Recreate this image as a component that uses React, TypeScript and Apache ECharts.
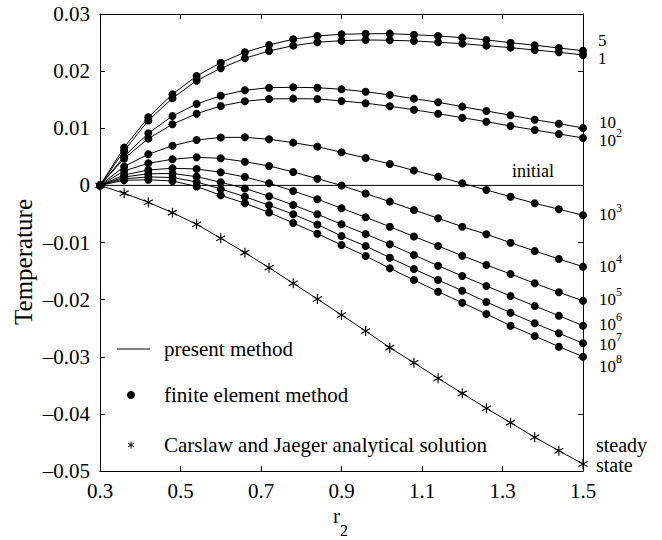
import React, { useEffect, useRef } from 'react';
import * as echarts from 'echarts';

// radial coordinate r2 (x axis)
const r2 = [0.3, 0.36, 0.42, 0.48, 0.54, 0.6, 0.66, 0.72, 0.78, 0.84, 0.9, 0.96, 1.02, 1.08, 1.14, 1.2, 1.26, 1.32, 1.38, 1.44, 1.5];

// temperature profiles for each time
const time1 = [0, 0.00606, 0.01136, 0.01525, 0.01833, 0.0205, 0.02225, 0.02353, 0.02446, 0.02505, 0.02533, 0.02546, 0.0254, 0.02528, 0.02505, 0.02481, 0.02446, 0.02411, 0.0237, 0.0233, 0.02283];
const time5 = [0, 0.00664, 0.01192, 0.01595, 0.01915, 0.02148, 0.0233, 0.02458, 0.02558, 0.02616, 0.02645, 0.02654, 0.02656, 0.02638, 0.02616, 0.02586, 0.02546, 0.02498, 0.02453, 0.02405, 0.02358];
const time10 = [0, 0.00506, 0.00912, 0.01215, 0.01425, 0.0157, 0.01665, 0.0171, 0.01717, 0.0171, 0.01682, 0.0164, 0.01583, 0.01518, 0.01455, 0.01378, 0.01303, 0.01227, 0.0115, 0.0108, 0.01005];
const time1e2 = [0, 0.00471, 0.00818, 0.0107, 0.01255, 0.0139, 0.01472, 0.01513, 0.01518, 0.01513, 0.01478, 0.01439, 0.01385, 0.01325, 0.01255, 0.01185, 0.01115, 0.0104, 0.0097, 0.009, 0.0083];
const time1e3 = [0, 0.00331, 0.00544, 0.00695, 0.00795, 0.00839, 0.00842, 0.00807, 0.00748, 0.00678, 0.00579, 0.0048, 0.00375, 0.00261, 0.00152, 0.00037, -0.00081, -0.00198, -0.00313, -0.00418, -0.00523];
const time1e4 = [0, 0.00252, 0.00387, 0.00457, 0.00492, 0.00474, 0.00415, 0.0034, 0.00235, 0.00117, -0.00002, -0.00142, -0.00285, -0.00431, -0.00576, -0.00723, -0.00856, -0.01003, -0.01148, -0.01289, -0.01423];
const time1e5 = [0, 0.00182, 0.0027, 0.00299, 0.00287, 0.00229, 0.00147, 0.00037, -0.00098, -0.00242, -0.00401, -0.00558, -0.00723, -0.00895, -0.01061, -0.01231, -0.01394, -0.01551, -0.01714, -0.01872, -0.02019];
const time1e6 = [0, 0.00147, 0.00203, 0.00208, 0.00152, 0.00056, -0.00054, -0.00191, -0.00343, -0.00506, -0.00681, -0.00851, -0.01031, -0.01219, -0.01406, -0.01586, -0.01761, -0.01936, -0.02111, -0.02281, -0.02456];
const time1e7 = [0, 0.00116, 0.00147, 0.00138, 0.0006, -0.00063, -0.00198, -0.00348, -0.00506, -0.00685, -0.00886, -0.01061, -0.01266, -0.01464, -0.01656, -0.01844, -0.02041, -0.02229, -0.02414, -0.02589, -0.02764];
const time1e8 = [0, 0.00089, 0.00098, 0.00077, -0.00019, -0.00173, -0.00313, -0.00474, -0.00658, -0.00846, -0.01043, -0.01236, -0.01451, -0.01656, -0.01861, -0.02054, -0.02251, -0.02456, -0.02637, -0.02824, -0.02999];
const steadyState = [0, -0.00138, -0.00296, -0.00478, -0.00681, -0.00926, -0.01178, -0.01441, -0.01714, -0.01989, -0.02269, -0.02549, -0.02841, -0.03104, -0.03377, -0.0364, -0.03902, -0.04154, -0.0441, -0.04645, -0.04877];

// initial condition line
const initialR = [0.3, 1.5];
const initialT = [0, 0];

const fdSeries = [time1, time5, time10, time1e2, time1e3, time1e4, time1e5, time1e6, time1e7, time1e8];
const fdNames = ['1', '5', '10', '10^2', '10^3', '10^4', '10^5', '10^6', '10^7', '10^8'];

// axis ticks
const xTicks = [0.3, 0.5, 0.7, 0.9, 1.1, 1.3, 1.5];
const yMin = -0.05;
const yMax = 0.03;
const yStep = 0.01;

// texts
const legendTexts = ['present method', 'finite element method', 'Carslaw and Jaeger analytical solution'];
const yTitle = 'Temperature';
const initialLabel = 'initial';
const steadyLabel = ['steady', 'state'];

const FONT = '"Liberation Serif", "Times New Roman", serif';

const asteriskPath = 'path://M0 -10 L0 10 M-8.66 -5 L8.66 5 M-8.66 5 L8.66 -5';

export default function App() {
  const ref = useRef<HTMLDivElement>(null);

  useEffect(() => {
    if (!ref.current) return;
    const chart = echarts.init(ref.current, null, { renderer: 'svg' });

    const fmtY = (v: number) => {
      const r = Math.round(v * 100) / 100;
      if (r === 0) return '0';
      if (r < 0) return '\u2013' + Math.abs(r).toFixed(2);
      return r.toFixed(2);
    };

    const series: any[] = [];
    series.push({
      type: 'line',
      name: 'initial',
      data: initialR.map((x, i) => [x, initialT[i]]),
      symbol: 'none',
      lineStyle: { color: '#000', width: 1 },
      silent: true,
      z: 1,
    });
    fdSeries.forEach((arr, k) => {
      series.push({
        type: 'line',
        name: fdNames[k],
        data: r2.map((x, i) => [x, arr[i]]),
        symbol: 'circle',
        symbolSize: 8,
        showSymbol: true,
        lineStyle: { color: '#000', width: 1 },
        itemStyle: { color: '#000' },
        silent: true,
        z: 2,
      });
    });
    series.push({
      type: 'line',
      name: 'steady',
      data: r2.map((x, i) => [x, steadyState[i]]),
      symbol: asteriskPath,
      symbolSize: [9, 10],
      lineStyle: { color: '#000', width: 1 },
      itemStyle: { color: 'none', borderColor: '#000', borderWidth: 1.2 },
      silent: true,
      z: 2,
    });

    // right-side curve labels
    const baseLabel = { fill: '#000', font: `17px ${FONT}`, textVerticalAlign: 'middle' as const };
    const supLabel = { fill: '#000', font: `12px ${FONT}`, textVerticalAlign: 'middle' as const };
    const lab = (text: string, x: number, y: number) => ({ type: 'text', x, y, style: { ...baseLabel, text } });
    const sup = (text: string, x: number, y: number) => ({ type: 'text', x, y, style: { ...supLabel, text } });
    const pow = (exp: string, y: number) => [lab('10', 599, y), sup(exp, 616, y - 7)];

    const graphic: any[] = [
      // y axis title
      {
        type: 'text', x: 23, y: 262, rotation: Math.PI / 2,
        style: { text: yTitle, fill: '#000', font: `25px ${FONT}`, textAlign: 'center', textVerticalAlign: 'middle' },
      },
      // x axis title r_2
      { type: 'text', x: 333, y: 516, style: { text: 'r', fill: '#000', font: `21px ${FONT}`, textVerticalAlign: 'middle' } },
      { type: 'text', x: 340, y: 530, style: { text: '2', fill: '#000', font: `16px ${FONT}`, textVerticalAlign: 'middle' } },
      // legend
      { type: 'line', shape: { x1: 117, y1: 349, x2: 150, y2: 349 }, style: { stroke: '#000', lineWidth: 1 } },
      { type: 'text', x: 164, y: 349, style: { text: legendTexts[0], fill: '#000', font: `21px ${FONT}`, textVerticalAlign: 'middle' } },
      { type: 'circle', shape: { cx: 131, cy: 395, r: 4 }, style: { fill: '#000' } },
      { type: 'text', x: 164, y: 395, style: { text: legendTexts[1], fill: '#000', font: `21px ${FONT}`, textVerticalAlign: 'middle' } },
      { type: 'line', shape: { x1: 131, y1: 441.5, x2: 131, y2: 448.5 }, style: { stroke: '#000', lineWidth: 1 } },
      { type: 'line', shape: { x1: 128, y1: 443.2, x2: 134, y2: 446.8 }, style: { stroke: '#000', lineWidth: 1 } },
      { type: 'line', shape: { x1: 128, y1: 446.8, x2: 134, y2: 443.2 }, style: { stroke: '#000', lineWidth: 1 } },
      { type: 'text', x: 164, y: 445, style: { text: legendTexts[2], fill: '#000', font: `21px ${FONT}`, textVerticalAlign: 'middle' } },
      // curve labels
      lab('5', 598, 40),
      lab('1', 598, 58),
      lab('10', 599, 122.5),
      ...pow('2', 140),
      ...pow('3', 214.5),
      ...pow('4', 266),
      ...pow('5', 299),
      ...pow('6', 324),
      ...pow('7', 344),
      ...pow('8', 366),
      { type: 'text', x: 512, y: 171, style: { text: initialLabel, fill: '#000', font: `18px ${FONT}`, textVerticalAlign: 'middle' } },
      { type: 'text', x: 596, y: 445, style: { text: steadyLabel[0], fill: '#000', font: `20px ${FONT}`, textVerticalAlign: 'middle' } },
      { type: 'text', x: 596, y: 465, style: { text: steadyLabel[1], fill: '#000', font: `20px ${FONT}`, textVerticalAlign: 'middle' } },
    ];

    const axisLine = { show: true, onZero: false, lineStyle: { color: '#000', width: 1 } };

    chart.setOption({
      animation: false,
      backgroundColor: '#fff',
      grid: { left: 100, right: 79, top: 14, bottom: 69, containLabel: false },
      xAxis: [
        {
          type: 'value', min: 0.3, max: 1.5, position: 'bottom',
          axisLine,
          axisTick: { show: true, inside: true, length: 5, customValues: xTicks, lineStyle: { color: '#000' } },
          axisLabel: {
            show: true, customValues: xTicks, margin: 9, color: '#000', fontSize: 21, fontFamily: FONT,
            formatter: (v: number) => v.toFixed(1),
          },
          splitLine: { show: false },
        },
        {
          type: 'value', min: 0.3, max: 1.5, position: 'top',
          axisLine,
          axisTick: { show: true, inside: true, length: 5, customValues: xTicks, lineStyle: { color: '#000' } },
          axisLabel: { show: false },
          splitLine: { show: false },
        },
      ],
      yAxis: [
        {
          type: 'value', min: yMin, max: yMax, interval: yStep, position: 'left',
          axisLine,
          axisTick: { show: true, inside: true, length: 5, lineStyle: { color: '#000' } },
          axisLabel: { show: true, margin: 10, color: '#000', fontSize: 21, fontFamily: FONT, formatter: fmtY },
          splitLine: { show: false },
        },
        {
          type: 'value', min: yMin, max: yMax, interval: yStep, position: 'right',
          axisLine,
          axisTick: { show: true, inside: true, length: 5, lineStyle: { color: '#000' } },
          axisLabel: { show: false },
          splitLine: { show: false },
        },
      ],
      series,
      graphic,
    });

    return () => chart.dispose();
  }, []);

  return (
    <div
      ref={ref}
      style={{ position: 'fixed', left: 0, top: 0, width: 662, height: 540, background: '#fff' }}
    />
  );
}
